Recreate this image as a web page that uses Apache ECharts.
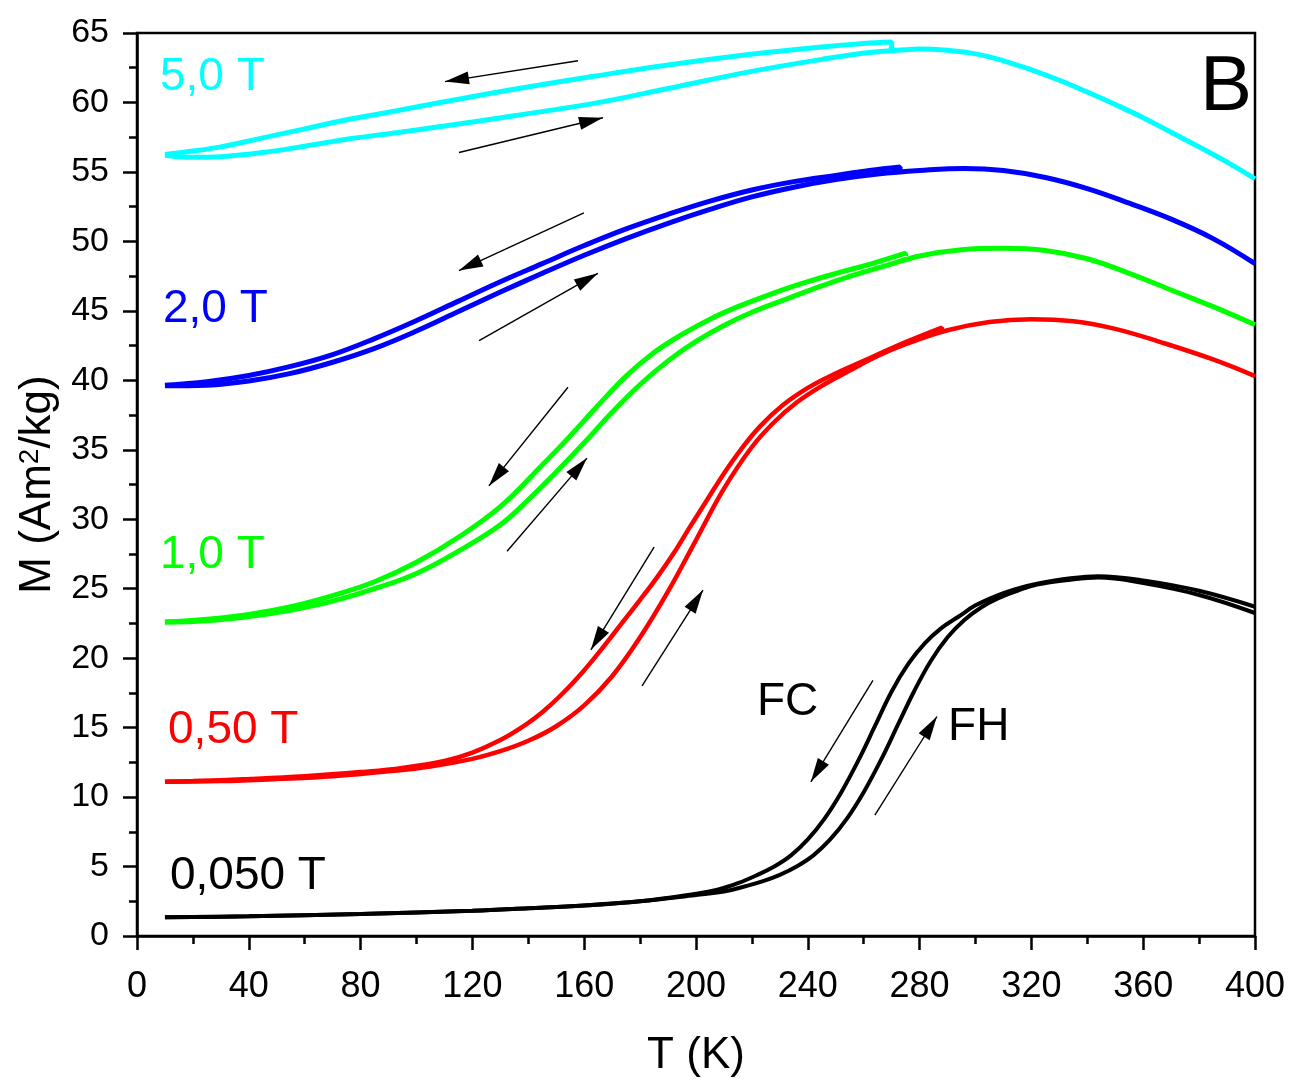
<!DOCTYPE html>
<html>
<head>
<meta charset="utf-8">
<script src="https://cdn.jsdelivr.net/npm/echarts@6/dist/echarts.min.js"></script>
<style>
html,body{margin:0;padding:0;background:#fff;}
#chart{width:1289px;height:1079px;}
</style>
</head>
<body>
<div id="chart"></div>
<script>
// ---- data: [T (K), M (Am2/kg)] ; FH = field heating, FC = field cooling ----
var cyanFH = [[10,56.2],[20,56.05],[30,56.1],[45,56.4],[60,56.85],[75,57.35],[90,57.75],[110,58.3],[135,59.05],[164,59.95],[190,61.0],[219,62.2],[245,63.1],[262,63.6],[275,63.8],[280,63.85],[290,63.75],[300,63.5],[310,63.0],[320,62.35],[330,61.6],[340,60.75],[350,59.85],[360,58.9],[370,57.85],[380,56.8],[390,55.7],[400,54.5]];
var cyanFC = [[270,63.75],[270,64.35],[260,64.25],[245,64.0],[219,63.45],[190,62.7],[164,61.9],[135,60.95],[110,60.05],[90,59.3],[75,58.75],[60,58.1],[45,57.45],[30,56.8],[20,56.5],[10,56.25]];

var blueFH = [[10,39.6],[25,39.65],[40,39.95],[55,40.5],[70,41.3],[85,42.3],[100,43.55],[115,44.95],[130,46.35],[145,47.7],[160,49.0],[175,50.2],[190,51.3],[205,52.3],[220,53.2],[235,53.9],[250,54.45],[265,54.85],[280,55.1],[296,55.25],[310,55.1],[325,54.6],[340,53.8],[355,52.75],[370,51.6],[385,50.2],[400,48.4]];
var blueFC = [[273,55.0],[273,55.35],[262,55.1],[250,54.75],[235,54.3],[220,53.7],[205,52.9],[190,51.95],[175,50.9],[160,49.7],[145,48.4],[130,47.1],[115,45.7],[100,44.3],[85,43.0],[70,41.85],[55,41.0],[40,40.35],[25,39.9],[10,39.65]];

var greenFH = [[10,22.6],[25,22.7],[40,23.0],[55,23.45],[70,24.1],[85,25.0],[100,26.1],[115,27.7],[130,29.6],[140,31.4],[150,33.4],[160,35.5],[170,37.7],[180,39.7],[190,41.4],[200,42.8],[210,43.95],[220,44.9],[233,45.9],[245,46.8],[257,47.6],[268,48.25],[280,48.95],[295,49.4],[310,49.5],[325,49.35],[340,48.75],[355,47.7],[370,46.5],[385,45.3],[400,44.0]];
var greenFC = [[275,48.95],[275,49.15],[263,48.4],[252,47.8],[240,47.1],[228,46.3],[215,45.3],[205,44.4],[195,43.3],[185,42.0],[175,40.3],[165,38.2],[155,36.0],[145,33.9],[130,30.9],[115,28.7],[100,26.9],[85,25.5],[70,24.5],[55,23.7],[40,23.15],[25,22.8],[10,22.6]];

var redFH = [[10,11.1],[30,11.15],[50,11.3],[70,11.5],[90,11.85],[105,12.2],[120,12.75],[130,13.3],[140,14.05],[150,15.1],[160,16.6],[170,18.7],[180,21.5],[190,24.8],[200,28.5],[210,32.2],[220,35.2],[228,37.0],[236,38.4],[245,39.6],[255,40.7],[265,41.75],[275,42.6],[290,43.6],[305,44.2],[320,44.4],[335,44.25],[350,43.7],[367,42.7],[385,41.5],[400,40.3]];
var redFC = [[288,43.6],[288,43.8],[275,42.75],[260,41.4],[249,40.4],[240,39.45],[231,38.2],[223,36.7],[216,35.0],[210,33.3],[204,31.4],[198,29.5],[192,27.55],[186,25.8],[180,24.2],[173,22.4],[166,20.6],[159,18.9],[152,17.4],[145,16.1],[139,15.2],[130,14.1],[120,13.2],[110,12.6],[95,12.1],[80,11.8],[60,11.5],[40,11.3],[20,11.15],[10,11.1]];

var blackFH = [[10,1.35],[40,1.42],[80,1.58],[120,1.82],[140,2.0],[160,2.2],[180,2.5],[200,2.95],[210,3.2],[218,3.6],[224,3.95],[230,4.4],[236,5.0],[242,5.8],[248,6.95],[254,8.45],[260,10.35],[266,12.6],[272,15.1],[278,17.6],[284,19.8],[290,21.5],[296,22.75],[302,23.65],[308,24.3],[315,24.85],[322,25.3],[334,25.65],[344,25.8],[360,25.4],[380,24.55],[400,23.25]];
var blackFC = [[400,23.7],[380,24.85],[360,25.6],[344,25.9],[334,25.75],[322,25.35],[314,24.95],[307,24.45],[300,23.8],[294,23.0],[288,22.2],[282,21.1],[276,19.6],[270,17.6],[264,15.1],[258,12.6],[252,10.35],[246,8.45],[240,6.95],[234,5.8],[228,5.0],[222,4.4],[215,3.8],[208,3.35],[200,3.05],[180,2.5],[160,2.2],[140,2.0],[120,1.82],[80,1.58],[40,1.42],[10,1.35]];

// arrows: [fromT, fromM, toT, toM]
var arrows = [
  [157.8,63.0,110.2,61.5],[115.2,56.4,166.7,58.9],
  [159.9,52.05,115.2,47.9],[122.4,42.85,164.9,47.7],
  [154.2,39.5,125.9,32.4],[132.4,27.7,161.0,34.4],
  [185.0,28.0,162.4,20.6],[180.7,18.0,202.5,24.9],
  [263.3,18.4,241.1,11.1],[264.0,8.7,286.2,15.8]
];
// text labels: [text, T, M, color, size]
var labels = [
  ['5,0 T',8.2,61.8,'#00FFFF',46],
  ['2,0 T',9.3,45.1,'#0000FF',46],
  ['1,0 T',8.2,27.4,'#00FF00',46],
  ['0,50 T',11.1,14.8,'#FF0000',46],
  ['0,050 T',11.8,4.3,'#000000',46],
  ['FC',221.8,16.8,'#000000',46],
  ['FH',290.2,15.0,'#000000',46],
  ['B',380.3,61.0,'#000000',78]
];
var xTicks = {min:0,max:400,interval:40};
var yTicks = {min:0,max:65,interval:5};

var FONT = "'Liberation Sans',Arial,sans-serif";

function lineSeries(name, data, color, width){
  return {name:name,type:'line',data:data,showSymbol:false,smooth:0.4,
    lineStyle:{color:color,width:width},itemStyle:{color:color},
    silent:true,animation:false,z:3};
}
var series = [
  lineSeries('cyanFH',cyanFH,'#00FFFF',5), lineSeries('cyanFC',cyanFC,'#00FFFF',5),
  lineSeries('blueFH',blueFH,'#0000FF',5), lineSeries('blueFC',blueFC,'#0000FF',5),
  lineSeries('greenFH',greenFH,'#00FF00',5), lineSeries('greenFC',greenFC,'#00FF00',5),
  lineSeries('redFH',redFH,'#FF0000',4.5), lineSeries('redFC',redFC,'#FF0000',4.5),
  lineSeries('blackFH',blackFH,'#000000',4), lineSeries('blackFC',blackFC,'#000000',4)
];
series.push({
  name:'annot',type:'line',data:[],silent:true,animation:false,
  markLine:{
    silent:true,animation:false,symbol:['none','triangle'],
    lineStyle:{color:'#000',width:1.4,type:'solid'},label:{show:false},
    emphasis:{disabled:true},
    data:arrows.map(function(a){return [
      {coord:[a[0],a[1]],symbol:'none'},
      {coord:[a[2],a[3]],symbol:'triangle',symbolSize:[13,24],symbolOffset:[0,12]}
    ];})
  },
  markPoint:{
    silent:true,animation:false,symbol:'circle',symbolSize:0,
    data:labels.map(function(l){return {coord:[l[1],l[2]],value:l[0],
      itemStyle:{color:'rgba(0,0,0,0)'},
      label:{show:true,position:'right',distance:0,formatter:l[0],color:l[3],fontSize:l[4],fontFamily:FONT}};})
  }
});

var chart = echarts.init(document.getElementById('chart'),null,{renderer:'canvas'});
chart.setOption({
  backgroundColor:'#fff',
  animation:false,
  grid:{left:137,right:34,top:33,bottom:143,containLabel:false,outerBoundsMode:'none',
    show:true,borderColor:'#000',borderWidth:2.5,backgroundColor:'transparent'},
  xAxis:{type:'value',min:xTicks.min,max:xTicks.max,interval:xTicks.interval,
    name:'T (K)',nameLocation:'middle',nameGap:98,
    nameTextStyle:{fontSize:44,fontFamily:FONT,color:'#000'},
    axisLine:{show:true,onZero:false,lineStyle:{color:'#000',width:2.5}},
    axisTick:{show:true,inside:false,length:14,lineStyle:{color:'#000',width:2.5}},
    minorTick:{show:true,splitNumber:2,length:8,lineStyle:{color:'#000',width:2.5}},
    splitLine:{show:false},
    axisLabel:{fontSize:36,fontFamily:FONT,color:'#000',margin:33}
  },
  yAxis:{type:'value',min:yTicks.min,max:yTicks.max,interval:yTicks.interval,
    name:'{a|M (Am}{s|2}{a|/kg)}',nameLocation:'middle',nameGap:77,nameRotate:90,
    nameTextStyle:{rich:{a:{fontSize:44,fontFamily:FONT,color:'#000'},s:{fontSize:28,fontFamily:FONT,color:'#000',verticalAlign:'top'}}},
    axisLine:{show:true,onZero:false,lineStyle:{color:'#000',width:2.5}},
    axisTick:{show:true,inside:false,length:14,lineStyle:{color:'#000',width:2.5}},
    minorTick:{show:true,splitNumber:2,length:8,lineStyle:{color:'#000',width:2.5}},
    splitLine:{show:false},
    axisLabel:{fontSize:34,fontFamily:FONT,color:'#000',margin:28}
  },
  series:series
});
</script>
</body>
</html>
